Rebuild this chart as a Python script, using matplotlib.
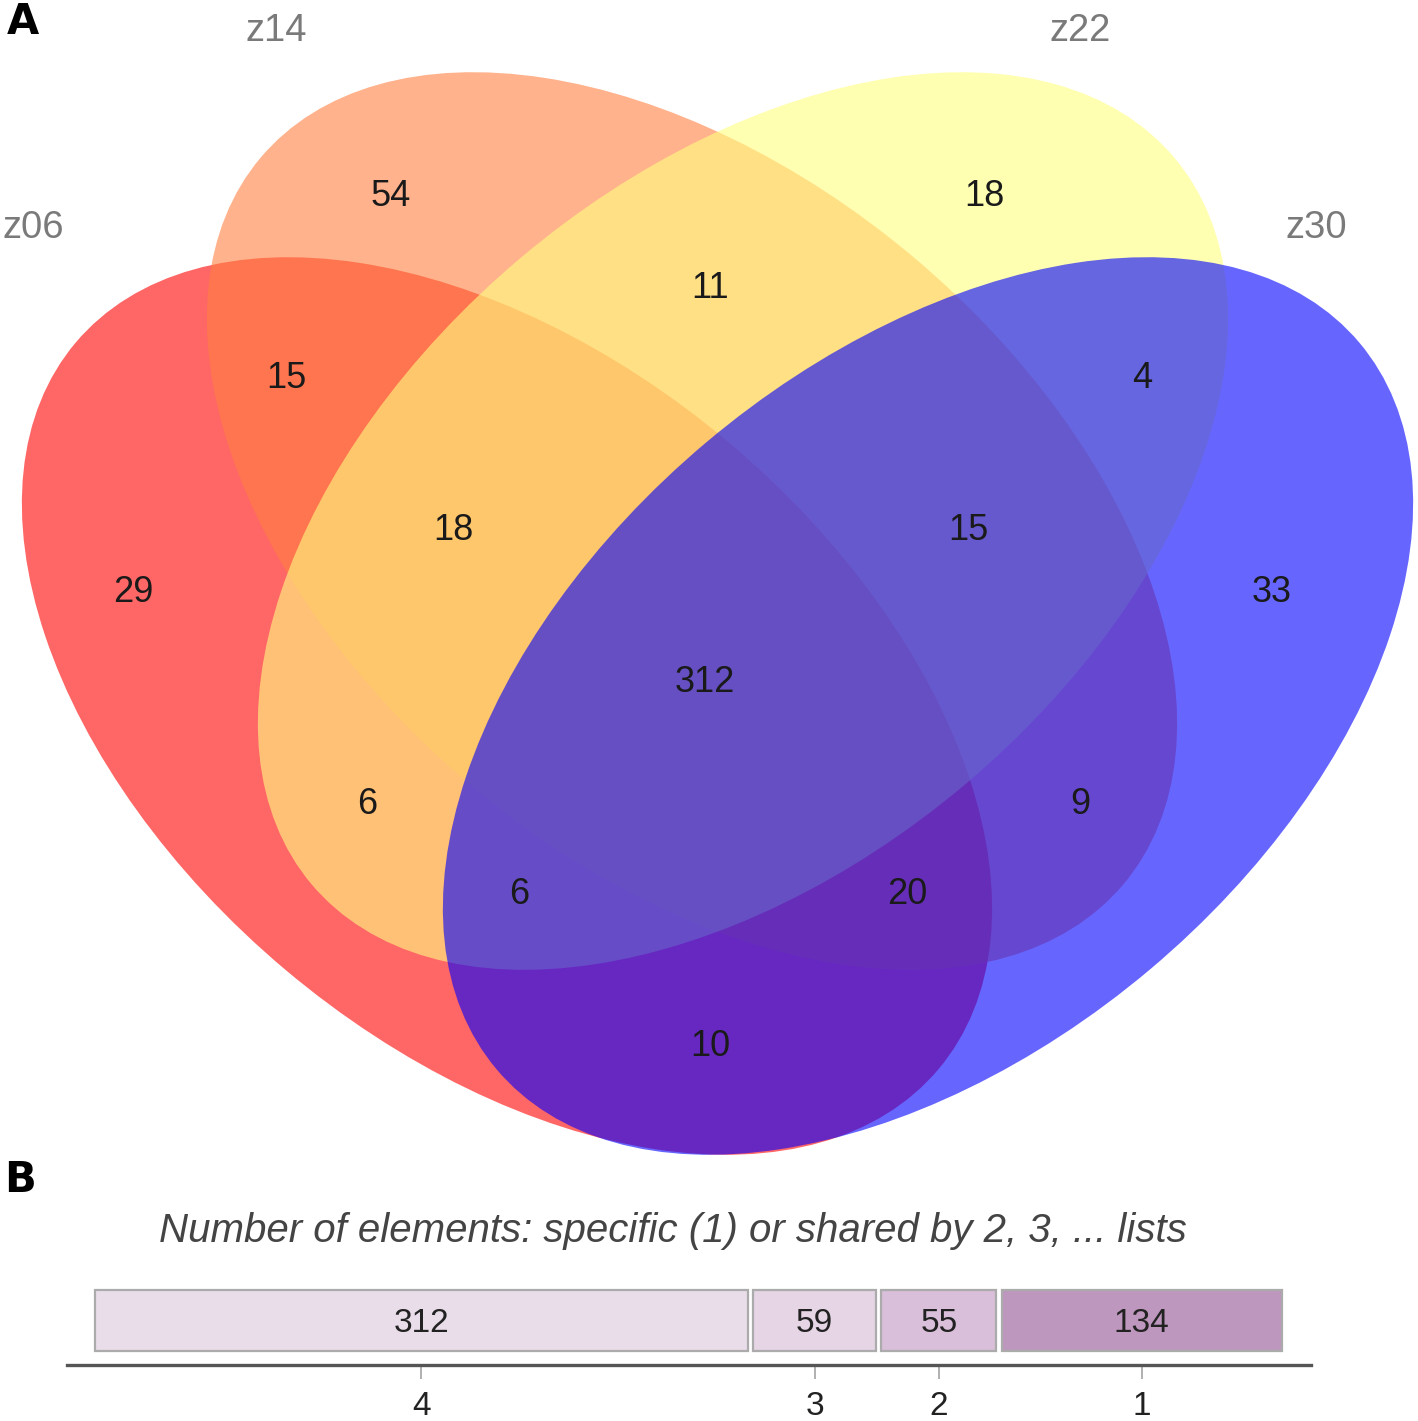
import matplotlib
matplotlib.use('Agg')
import matplotlib.pyplot as plt
from matplotlib.patches import Ellipse
import numpy as np

# ---------------- data ----------------
set_names = ['z06', 'z14', 'z22', 'z30']
set_colors = ['#FF0000', '#FF8040', '#FFFF80', '#0000FF']

region_sets = ['z06', 'z14', 'z22', 'z30',
               'z06&z14', 'z14&z22', 'z22&z30', 'z06&z22', 'z14&z30', 'z06&z30',
               'z06&z14&z22', 'z14&z22&z30', 'z06&z22&z30', 'z06&z14&z30',
               'z06&z14&z22&z30']
region_counts = [29, 54, 18, 33,
                 15, 11, 4, 6, 9, 10,
                 18, 15, 6, 20,
                 312]

degree_labels = ['4', '3', '2', '1']
degree_counts = [312, 59, 55, 134]
degree_colors = ['#EADDEA', '#E5D5E5', '#D9BFD9', '#BE97BE']

bar_title = 'Number of elements: specific (1) or shared by 2, 3, ... lists'

# ---------------- layout (pixel space) ----------------
W, H = 1418, 1421
ell_centers = {'z06': (507, 706), 'z14': (692, 521), 'z22': (743, 521), 'z30': (928, 706)}
ell_angles = {'z06': 40.1, 'z14': 40.1, 'z22': -40.1, 'z30': -40.1}
ell_w, ell_h = 1128, 689
name_pos = {'z06': (33, 228), 'z14': (276, 31), 'z22': (1080, 31), 'z30': (1316, 228)}
region_pos = {'z06': (133, 592), 'z14': (391, 197), 'z22': (984, 197), 'z30': (1272, 592),
              'z06&z14': (286, 379), 'z14&z22': (710, 289), 'z22&z30': (1142, 379),
              'z06&z22': (367, 804), 'z14&z30': (1080, 804), 'z06&z30': (710, 1047),
              'z06&z14&z22': (453, 531), 'z14&z22&z30': (968, 531),
              'z06&z22&z30': (519, 895), 'z06&z14&z30': (907, 895),
              'z06&z14&z22&z30': (705, 683)}

font = 'Liberation Sans'

fig = plt.figure(figsize=(W / 100, H / 100), dpi=100)
fig.patch.set_facecolor('white')

ax = fig.add_axes([0, 0, 1, 1])
ax.set_xlim(0, W)
ax.set_ylim(H, 0)
ax.axis('off')

for i, name in enumerate(set_names):
    e = Ellipse(ell_centers[name], ell_w, ell_h, angle=ell_angles[name],
                facecolor=set_colors[i], alpha=0.6, edgecolor='none', zorder=1 + i)
    ax.add_patch(e)
    ax.text(*name_pos[name], name, fontsize=27.5, color='#7a7a7a', ha='center', va='center',
            family=font, zorder=10)

for key, cnt in zip(region_sets, region_counts):
    ax.text(*region_pos[key], str(cnt), fontsize=26, color='#1a1a1a', ha='center', va='center',
            family=font, zorder=10)

ax.text(23, 22, 'A', fontsize=30, fontweight='bold', ha='center', va='center', family='DejaVu Sans', zorder=10)
ax.text(20, 1180, 'B', fontsize=30, fontweight='bold', ha='center', va='center', family='DejaVu Sans', zorder=10)
ax.text(673, 1231, bar_title, fontsize=29, style='italic', color='#444444', ha='center', va='center',
        family=font, zorder=10)

# ---------------- bar strip ----------------
x0, x1 = 67, 1311
yb, yt = 1365, 1280
ax2 = fig.add_axes([x0 / W, (H - yb) / H, (x1 - x0) / W, (yb - yt) / H])
ax2.patch.set_alpha(0)
gap = 2.4
counts = np.array(degree_counts, dtype=float)
lefts = np.concatenate([[0], np.cumsum(counts)[:-1]]) + gap * np.arange(len(counts))
centers = lefts + counts / 2
ax2.barh(0.524, counts, left=lefts, height=0.717, color=degree_colors,
         edgecolor='#ababab', linewidth=1.6)
for c, v in zip(centers, degree_counts):
    ax2.text(c, 0.49, str(v), ha='center', va='center', fontsize=24, color='#222222', family=font)
ax2.set_xlim(-13.4, counts.sum() + gap * 3 + 13.9)
ax2.set_ylim(0, 1)
for s in ['top', 'left', 'right']:
    ax2.spines[s].set_visible(False)
ax2.spines['bottom'].set_color('#555555')
ax2.spines['bottom'].set_linewidth(2.4)
ax2.set_yticks([])
ax2.set_xticks(centers)
ax2.set_xticklabels(degree_labels, fontsize=24, color='#222222', family=font)
ax2.tick_params(axis='x', direction='out', length=10, width=1.3, color='#aaaaaa', pad=9)

fig.savefig('out.png', dpi=100, facecolor='white')
